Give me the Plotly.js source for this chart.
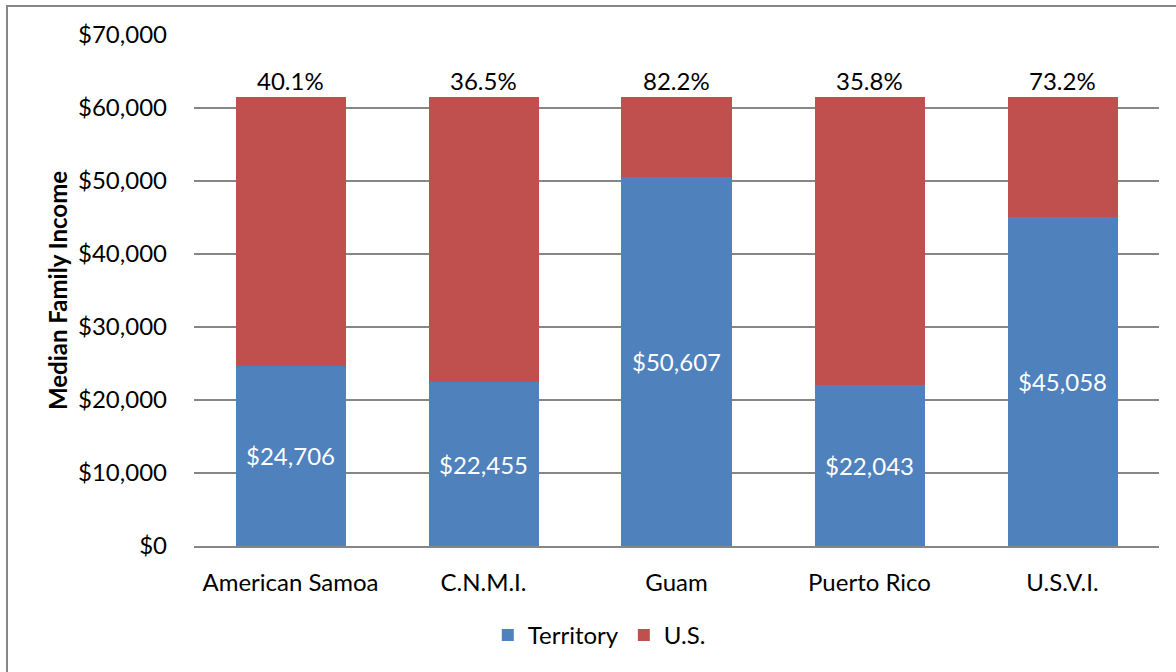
<!DOCTYPE html>
<html>
<head>
<meta charset="utf-8">
<script src="https://cdn.plot.ly/plotly-3.0.1.min.js"></script>
<style>
html,body{margin:0;padding:0;background:#fff;}
#chart{width:1176px;height:672px;}
</style>
</head>
<body>
<div id="chart"></div>
<script>
const categories = ["American Samoa", "C.N.M.I.", "Guam", "Puerto Rico", "U.S.V.I."];
const territoryIncome = [24706, 22455, 50607, 22043, 45058];
const usGap = [36854, 39105, 10953, 39517, 16502];
const territoryLabels = ["$24,706", "$22,455", "$50,607", "$22,043", "$45,058"];
const shareLabels = ["40.1%", "36.5%", "82.2%", "35.8%", "73.2%"];
const yTickVals = [0, 10000, 20000, 30000, 40000, 50000, 60000, 70000];
const yTickText = ["$0", "$10,000", "$20,000", "$30,000", "$40,000", "$50,000", "$60,000", "$70,000"];

const FONT = "Lato, 'Open Sans', sans-serif";

const traces = [
  {
    type: "bar", name: "Territory", x: categories, y: territoryIncome,
    marker: {color: "#4F81BD"},
    text: territoryLabels, textposition: "inside", insidetextanchor: "middle",
    textfont: {color: "#ffffff", size: 24, family: FONT},
    hoverinfo: "x+y"
  },
  {
    type: "bar", name: "U.S.", x: categories, y: usGap,
    marker: {color: "#C0504D"},
    hoverinfo: "x+y"
  }
];

const annotations = categories.map((c, i) => ({
  x: c, y: territoryIncome[i] + usGap[i], xref: "x", yref: "y",
  text: shareLabels[i], showarrow: false, yanchor: "bottom", yshift: 0,
  font: {size: 24, color: "#000000", family: FONT}
}));

const layout = {
  width: 1176, height: 672,
  margin: {l: 194, r: 17, t: 35, b: 126},
  paper_bgcolor: "#ffffff", plot_bgcolor: "#ffffff",
  barmode: "stack", bargap: 0.43,
  font: {family: FONT, color: "#000000"},
  showlegend: true,
  legend: {orientation: "h", x: 0.42, xanchor: "center", y: -0.131, yanchor: "top",
           font: {size: 24, family: FONT}, traceorder: "normal", itemwidth: 30},
  xaxis: {
    type: "category", showgrid: false, ticks: "", showline: true,
    linecolor: "#868686", linewidth: 2, ticklabelstandoff: 14,
    tickfont: {size: 24, family: FONT}, fixedrange: true
  },
  yaxis: {
    range: [0, 70000], tickvals: yTickVals, ticktext: yTickText,
    showgrid: true, gridcolor: "#868686", gridwidth: 1.5, zeroline: false,
    ticks: "", ticklen: 0, tickfont: {size: 24, family: FONT}, ticklabelstandoff: 26,
    title: {text: "<b>Median Family Income</b>", font: {size: 24, family: FONT}, standoff: 3},
    fixedrange: true
  },
  annotations: annotations,
  shapes: [{
    type: "rect", xref: "paper", yref: "paper",
    x0: -0.1938, x1: 1.1, y0: -0.5, y1: 1.0568,
    line: {color: "#868686", width: 2}, fillcolor: "rgba(0,0,0,0)", layer: "above"
  }]
};

Plotly.newPlot("chart", traces, layout, {displayModeBar: false, staticPlot: true});
</script>
</body>
</html>
